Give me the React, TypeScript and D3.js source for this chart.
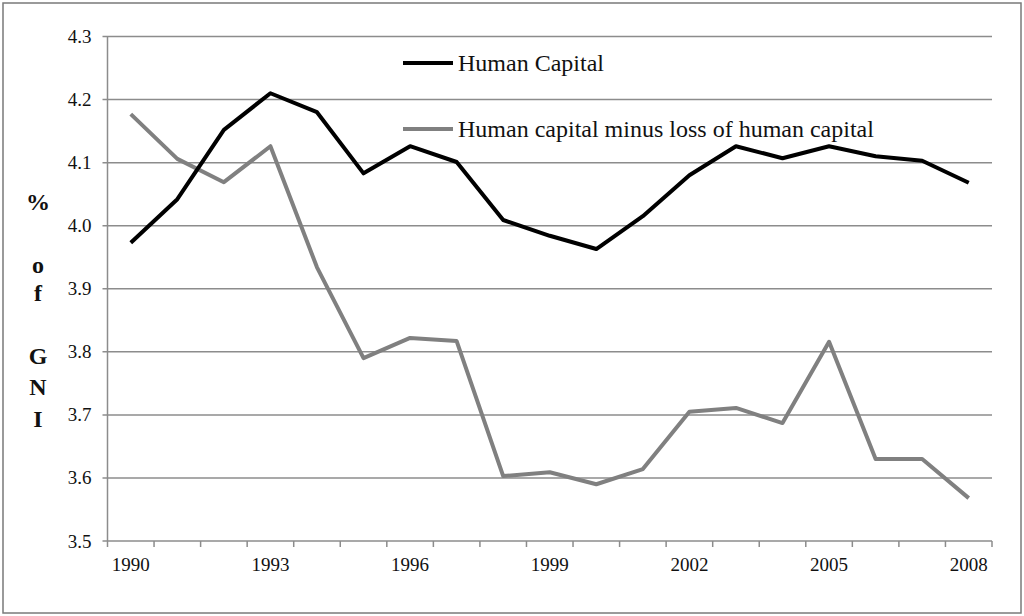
import React, { useEffect, useRef } from "react";
import * as d3 from "d3";

const years: number[] = [
  1990, 1991, 1992, 1993, 1994, 1995, 1996, 1997, 1998, 1999, 2000, 2001,
  2002, 2003, 2004, 2005, 2006, 2007, 2008,
];
const humanCapital: number[] = [
  3.973, 4.042, 4.152, 4.21, 4.18, 4.083, 4.126, 4.101, 4.009, 3.984, 3.963,
  4.015, 4.08, 4.126, 4.107, 4.126, 4.11, 4.103, 4.068,
];
const humanCapitalNet: number[] = [
  4.177, 4.106, 4.069, 4.126, 3.934, 3.79, 3.822, 3.817, 3.603, 3.609, 3.59,
  3.614, 3.705, 3.711, 3.687, 3.816, 3.63, 3.63, 3.568,
];
const yTicks: number[] = [3.5, 3.6, 3.7, 3.8, 3.9, 4.0, 4.1, 4.2, 4.3];
const xLabelYears: number[] = [1990, 1993, 1996, 1999, 2002, 2005, 2008];
const seriesNames: string[] = [
  "Human Capital",
  "Human capital minus loss of human capital",
];
const axisTitle: string[] = ["%", "o", "f", "G", "N", "I"];

const App: React.FC = () => {
  const svgRef = useRef<SVGSVGElement>(null);

  useEffect(() => {
    const width = 1024;
    const height = 616;
    const svg = d3.select(svgRef.current);
    svg.html("");

    const left = 107.5;
    const right = 992;
    const top = 36.5;
    const bottom = 541;
    const font = "Liberation Serif, DejaVu Serif, serif";
    const gridColor = "#8c8c8c";

    // outer frame
    svg
      .append("rect")
      .attr("x", 3)
      .attr("y", 3)
      .attr("width", width - 6)
      .attr("height", height - 6)
      .attr("fill", "#fff")
      .attr("stroke", "#7a7a7a")
      .attr("stroke-width", 1.5);

    const x = d3
      .scaleBand<number>()
      .domain(years)
      .range([left, right])
      .padding(0);
    const y = d3.scaleLinear().domain([3.5, 4.3]).range([bottom, top]);
    const cx = (yr: number) => (x(yr) ?? 0) + x.bandwidth() / 2;

    const g = svg.append("g").style("font-family", font);

    // horizontal grid lines
    g.selectAll("line.grid")
      .data(yTicks)
      .enter()
      .append("line")
      .attr("x1", left - 5)
      .attr("x2", right)
      .attr("y1", (d) => y(d))
      .attr("y2", (d) => y(d))
      .attr("stroke", gridColor)
      .attr("stroke-width", 1.5);

    // y axis line
    g.append("line")
      .attr("x1", left)
      .attr("x2", left)
      .attr("y1", top)
      .attr("y2", bottom)
      .attr("stroke", gridColor)
      .attr("stroke-width", 1.5);

    // x tick marks at category boundaries
    const boundaries = years.map((yr) => x(yr) ?? 0).concat([right]);
    g.selectAll("line.xtick")
      .data(boundaries)
      .enter()
      .append("line")
      .attr("x1", (d) => d)
      .attr("x2", (d) => d)
      .attr("y1", bottom)
      .attr("y2", bottom + 6)
      .attr("stroke", gridColor)
      .attr("stroke-width", 1.5);

    // y tick labels
    g.selectAll("text.ylab")
      .data(yTicks)
      .enter()
      .append("text")
      .attr("x", left - 16)
      .attr("y", (d) => y(d) + 6.5)
      .attr("text-anchor", "end")
      .style("font-family", font)
      .attr("font-size", 19)
      .attr("fill", "#111")
      .text((d) => d3.format(".1f")(d));

    // x labels
    g.selectAll("text.xlab")
      .data(xLabelYears)
      .enter()
      .append("text")
      .attr("x", (d) => cx(d))
      .attr("y", bottom + 30)
      .attr("text-anchor", "middle")
      .style("font-family", font)
      .attr("font-size", 19)
      .attr("fill", "#111")
      .text((d) => String(d));

    // vertical axis title letters
    const titleY = [202, 265, 293, 356, 387, 419];
    axisTitle.forEach((ch, i) => {
      g.append("text")
        .attr("x", 38)
        .attr("y", titleY[i] + 8)
        .attr("text-anchor", "middle")
        .style("font-family", font)
        .attr("font-weight", "bold")
        .attr("font-size", 24)
        .attr("fill", "#111")
        .text(ch);
    });

    const line = d3
      .line<number>()
      .x((_, i) => cx(years[i]))
      .y((d) => y(d));

    g.append("path")
      .datum(humanCapitalNet)
      .attr("fill", "none")
      .attr("stroke", "#808080")
      .attr("stroke-width", 4)
      .attr("stroke-linejoin", "round")
      .attr("d", line);

    g.append("path")
      .datum(humanCapital)
      .attr("fill", "none")
      .attr("stroke", "#000")
      .attr("stroke-width", 4)
      .attr("stroke-linejoin", "round")
      .attr("d", line);

    // legend
    const legendColors = ["#000", "#808080"];
    const legendY = [63, 129];
    seriesNames.forEach((name, i) => {
      g.append("line")
        .attr("x1", 403)
        .attr("x2", 453)
        .attr("y1", legendY[i])
        .attr("y2", legendY[i])
        .attr("stroke", legendColors[i])
        .attr("stroke-width", 4);
      g.append("text")
        .attr("x", 458)
        .attr("y", legendY[i] + 8)
        .style("font-family", font)
        .attr("font-size", 24)
        .attr("fill", "#111")
        .text(name);
    });
  }, []);

  return (
    <svg
      ref={svgRef}
      width={1024}
      height={616}
      style={{ position: "absolute", left: 0, top: 0 }}
    />
  );
};

export default App;
